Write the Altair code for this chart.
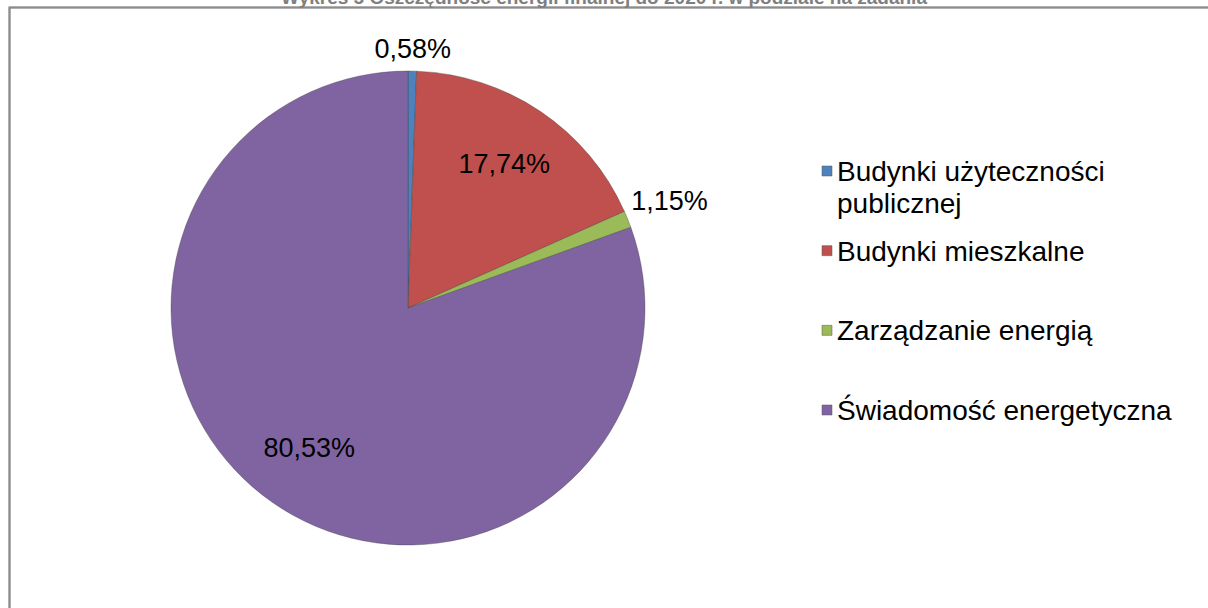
import altair as alt
import pandas as pd

title_text = "Wykres 5 Oszczędność energii finalnej do 2020 r. w podziale na zadania"
categories = [
    "Budynki użyteczności publicznej",
    "Budynki mieszkalne",
    "Zarządzanie energią",
    "Świadomość energetyczna",
]
legend_labels = [
    "Budynki użyteczności\npublicznej",
    "Budynki mieszkalne",
    "Zarządzanie energią",
    "Świadomość energetyczna",
]
shares = [0.58, 17.74, 1.15, 80.53]
share_labels = ["0,58%", "17,74%", "1,15%", "80,53%"]
colors = ["#4F81BD", "#C0504D", "#9BBB59", "#8064A2"]

df = pd.DataFrame({
    "cat": categories,
    "legend": legend_labels,
    "share": shares,
    "label": share_labels,
    "order": list(range(len(categories))),
})

FONT = "Liberation Sans"
CX, CY, R = 408, 308, 237

color = alt.Color("cat:N", scale=alt.Scale(domain=categories, range=colors), legend=None)

base = alt.Chart(df).encode(
    theta=alt.Theta("share:Q", stack=True),
    order=alt.Order("order:Q"),
    x=alt.value(CX),
    y=alt.value(CY),
)

pie = base.mark_arc(outerRadius=R, stroke="#3a3a3a", strokeWidth=0.6, strokeOpacity=0.6).encode(color=color)


def label_layer(expr, radius):
    return base.transform_calculate(t=expr).mark_text(
        radius=radius, font=FONT, fontSize=27, color="#000000", baseline="middle", align="center"
    ).encode(text="t:N")


inside = label_layer("datum.share >= 5 ? datum.label : ''", 172)
out_top = label_layer("datum.order == 0 ? datum.label : ''", 258)
out_right = label_layer("datum.order == 2 ? datum.label : ''", 282)

frame = alt.Chart(df).mark_rect(fill=None, stroke="#8c8c8c", strokeWidth=1.5).encode(
    x=alt.value(9.5), x2=alt.value(1230), y=alt.value(7.5), y2=alt.value(640)
)

title = alt.Chart(pd.DataFrame({"t": [title_text]})).mark_text(
    font=FONT, fontSize=19, fontWeight="bold", color="#7f7f7f", align="center", baseline="alphabetic"
).encode(x=alt.value(604), y=alt.value(4), text="t:N")

ypos = alt.Y("cat:N", scale=alt.Scale(type="point", domain=categories, range=[171, 410], padding=0), axis=None)

leg_sq = alt.Chart(df).mark_square(size=100, opacity=1, stroke="#555555", strokeWidth=0.5).encode(
    x=alt.value(827), y=ypos, color=color
)
leg_txt = alt.Chart(df).mark_text(
    font=FONT, fontSize=28, color="#000000", align="left", baseline="alphabetic", dy=10, lineBreak="\n", lineHeight=32
).encode(x=alt.value(837), y=ypos, text="legend:N")

chart = alt.layer(frame, pie, inside, out_top, out_right, leg_sq, leg_txt, title).properties(
    width=1208, height=608, autosize=alt.AutoSizeParams(type="none"), padding=0, background="white"
).configure_view(stroke=None)

chart.save("out.html", embed_options={"renderer": "svg", "actions": False})
